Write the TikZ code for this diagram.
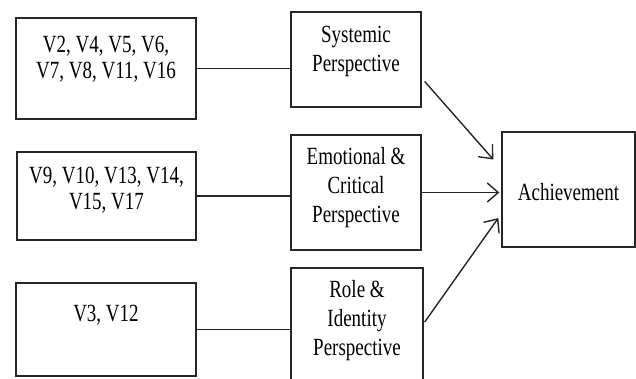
\documentclass[tikz,border=0pt]{standalone}
\usepackage{fontspec}
\setmainfont{Liberation Serif}
\usetikzlibrary{arrows.meta}
\tikzstyle{box}=[rectangle,draw=black!85,line width=1.4pt,inner sep=0pt]
\tikzstyle{words}=[align=center,inner sep=0pt,transform shape,yscale=1.3,
  font=\fontsize{19}{20}\selectfont]
\tikzstyle{wordsright}=[words,font=\fontsize{19}{22.3}\selectfont]
\tikzstyle{link}=[draw=black!85,line width=1.4pt]
\tikzstyle{effect}=[link,-{Straight Barb[length=11pt,width=19pt]}]

\begin{document}
\begin{tikzpicture}[x=1pt,y=-1pt]
  \useasboundingbox (0,0) rectangle (636,378);
  \clip (0,0) rectangle (636,378);
  \def\sep{130};
  \node[box, minimum width=180pt, minimum height=101pt] (1 items) at (106,68.5) {};
  \node[words] (1 items text) at (106,59) {V2, V4, V5, V6,\\V7, V8, V11, V16};

  \node[box, minimum width=179pt, minimum height=88pt] (2 items) at (106.5,196) {};
  \node[words] (2 items text) at (106.5,190) {V9, V10, V13, V14,\\V15, V17};

  \node[box, minimum width=180pt, minimum height=93pt] (3 items) at (106,329.5) {};
  \node[words] (3 items text) at (106,315) {V3, V12};

  \node[box, minimum width=\sep pt, minimum height=95pt] (1 perspective) at (356,59.5) {};
  \node[wordsright] (1 perspective text) at (356,51) {Systemic\\Perspective};

  \node[box, minimum width=\sep pt, minimum height=115pt] (2 perspective) at (356,192.5) {};
  \node[wordsright] (2 perspective text) at (356,188) {Emotional \&\\Critical\\Perspective};

  \node[box, minimum width=132pt, minimum height=122pt] (3 perspective) at (357,329) {};
  \node[wordsright] (3 perspective text) at (357,321) {Role \&\\Identity\\Perspective};

  \node[box, minimum width=133pt, minimum height=115pt] (achievement) at (568.5,189.5) {};
  \node[words] (achievement text) at (568.5,192) {Achievement};

  \foreach \x in {1,2,3} {
    \draw[link] (\x \space items.east) -- (\x \space items.east -| \x \space perspective.west);
  }

  \draw[effect] ([shift={(3,22)}]1 perspective.east) -- ([shift={(-8,-30)}]achievement.west);
  \draw[effect,shorten >=2pt] (2 perspective.east) -- (2 perspective.east -| achievement.west);
  \draw[effect] ([shift={(1,-7)}]3 perspective.east) -- ([shift={(-3,28.5)}]achievement.west);
\end{tikzpicture}
\end{document}
